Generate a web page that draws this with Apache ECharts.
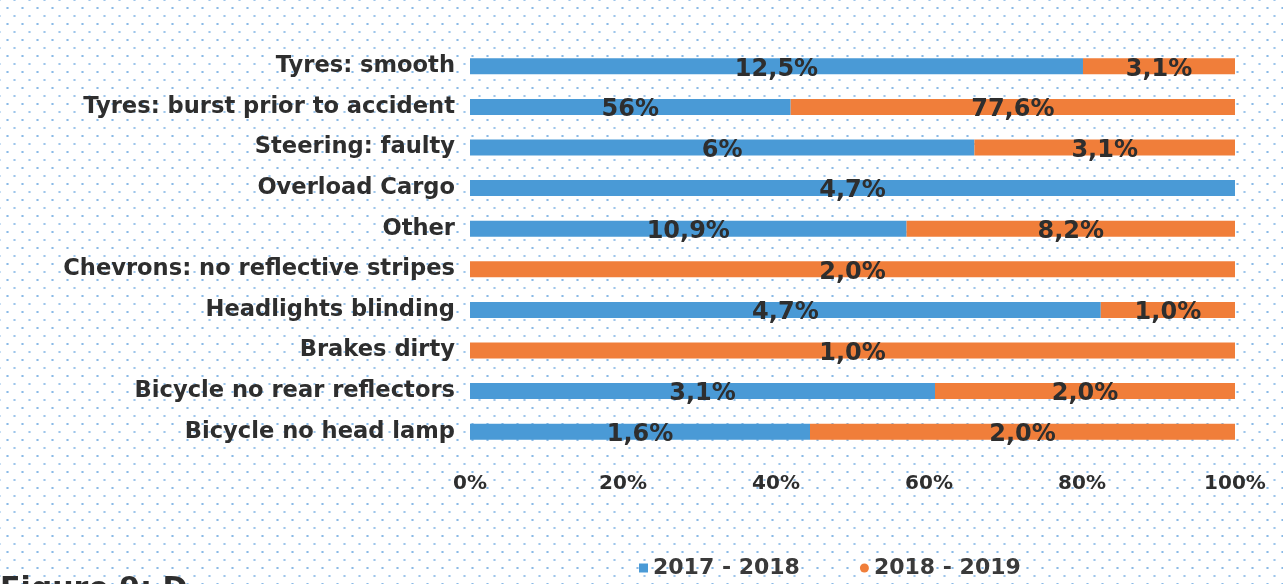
<!DOCTYPE html>
<html>
<head>
<meta charset="utf-8">
<script src="https://cdn.jsdelivr.net/npm/echarts@6/dist/echarts.min.js"></script>
<style>
html,body{margin:0;padding:0;width:1283px;height:584px;overflow:hidden;background:#fff;}
body{
  background-color:#fff;
  background-image:
    radial-gradient(circle, rgba(60,140,215,0.6) 0.9px, transparent 1.4px),
    radial-gradient(circle, rgba(60,140,215,0.5) 0.9px, transparent 1.4px);
  background-size:15px 16px, 15px 16px;
  background-position:0 0, 7px 8px;
}
#chart{width:1283px;height:584px;}
</style>
</head>
<body>
<div id="chart"></div>
<script>
// ---- data ----
const categories = [
  'Tyres: smooth',
  'Tyres: burst prior to accident',
  'Steering: faulty',
  'Overload Cargo',
  'Other',
  'Chevrons: no reflective stripes',
  'Headlights blinding',
  'Brakes dirty',
  'Bicycle no rear reflectors',
  'Bicycle no head lamp'
];
const seriesNames = ['2017 - 2018', '2018 - 2019'];
const values2017 = [12.5, 56, 6, 4.7, 10.9, 0, 4.7, 0, 3.1, 1.6];
const values2018 = [3.1, 77.6, 3.1, 0, 8.2, 2.0, 1.0, 1.0, 2.0, 2.0];
const labels2017 = ['12,5%', '56%', '6%', '4,7%', '10,9%', '', '4,7%', '', '3,1%', '1,6%'];
const labels2018 = ['3,1%', '77,6%', '3,1%', '', '8,2%', '2,0%', '1,0%', '1,0%', '2,0%', '2,0%'];
const xTicks = [0, 20, 40, 60, 80, 100];

// ---- build 100% shares ----
const share = (a, b) => a.map((v, i) => {
  const t = v + b[i];
  return t ? v / t * 100 : 0;
});
const share2017 = share(values2017, values2018);
const share2018 = share(values2018, values2017);

const FONT = 'DejaVu Sans';
const BLUE = '#4a9ad6';
const ORANGE = '#f07e3a';
const TEXT = '#2e2e2e';

const chart = echarts.init(document.getElementById('chart'), null, {renderer: 'canvas'});

function labelCfg(texts) {
  return {
    show: true,
    position: 'inside',
    offset: [0, 3],
    formatter: p => texts[p.dataIndex],
    color: TEXT,
    fontFamily: FONT,
    fontWeight: 'bold',
    fontSize: 24
  };
}

chart.setOption({
  backgroundColor: 'transparent',
  animation: false,
  grid: {left: 470, right: 48, top: 46, bottom: 132, containLabel: false},
  legend: {
    left: 634,
    top: 552,
    itemGap: 60,
    itemWidth: 9,
    itemHeight: 9,
    textStyle: {color: '#3a3a3a', fontFamily: FONT, fontWeight: 'bold', fontSize: 22},
    data: [
      {name: seriesNames[0], icon: 'rect'},
      {name: seriesNames[1], icon: 'circle'}
    ]
  },
  xAxis: {
    type: 'value',
    min: xTicks[0],
    max: xTicks[xTicks.length - 1],
    interval: xTicks[1] - xTicks[0],
    axisLine: {show: false},
    axisTick: {show: false},
    splitLine: {show: false},
    axisLabel: {
      formatter: '{value}%',
      color: TEXT,
      fontFamily: FONT,
      fontWeight: 'bold',
      fontSize: 20,
      margin: 22
    }
  },
  yAxis: {
    type: 'category',
    inverse: true,
    data: categories,
    axisLine: {show: false},
    axisTick: {show: false},
    splitLine: {show: false},
    axisLabel: {
      color: TEXT,
      fontFamily: FONT,
      fontWeight: 'bold',
      fontSize: 22.6,
      margin: 15
    }
  },
  series: [
    {
      name: seriesNames[0],
      type: 'bar',
      stack: 'total',
      barWidth: 16,
      itemStyle: {color: BLUE},
      label: labelCfg(labels2017),
      data: share2017
    },
    {
      name: seriesNames[1],
      type: 'bar',
      stack: 'total',
      barWidth: 16,
      itemStyle: {color: ORANGE},
      label: labelCfg(labels2018),
      data: share2018
    }
  ],
  graphic: [
    {
      type: 'text',
      left: 0,
      top: 575,
      style: {
        text: 'Figure 9: D',
        fill: '#2e2e2e',
        font: 'bold 30px "DejaVu Sans"'
      }
    }
  ]
});
</script>
</body>
</html>
